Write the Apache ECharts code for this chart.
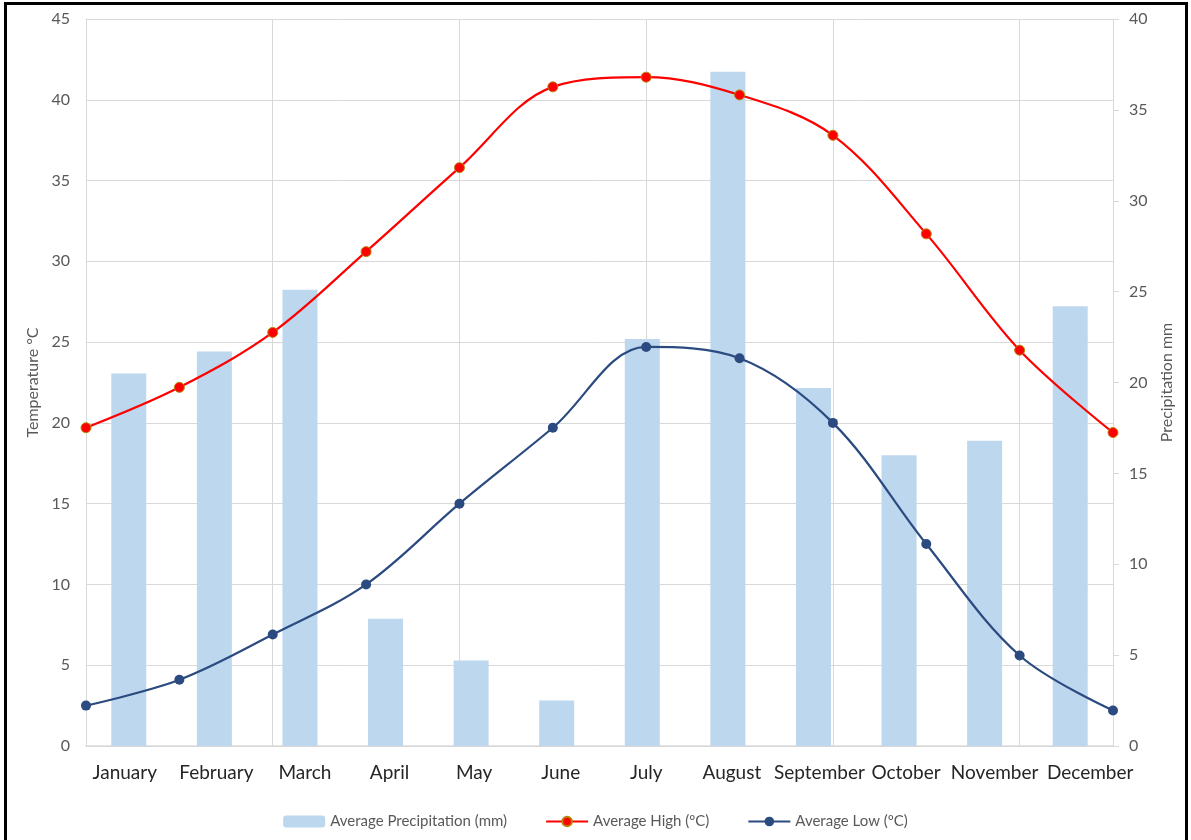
<!DOCTYPE html>
<html><head><meta charset="utf-8">
<script src="https://cdn.jsdelivr.net/npm/echarts@6/dist/echarts.min.js"></script>
<style>html,body{margin:0;padding:0;background:#fff}#c{width:1191px;height:840px}</style>
</head><body><div id="c"></div>
<script>
const months = ['January','February','March','April','May','June','July','August','September','October','November','December'];
const precipitation = [20.5, 21.7, 25.1, 7.0, 4.7, 2.5, 22.4, 37.1, 19.7, 16.0, 16.8, 24.2];
const avgHigh = [19.7, 22.2, 25.6, 30.6, 35.8, 40.8, 41.4, 40.3, 37.8, 31.7, 24.5, 19.4];
const avgLow = [2.5, 4.1, 6.9, 10.0, 15.0, 19.7, 24.7, 24.0, 20.0, 12.5, 5.6, 2.2];

const FONT = 'Lato';
// horizontal nudges of month labels (px), as in the reference layout
const labelShift = [-4, 2, 5, 4, 3, 4, 4, 4, 6, 7, 10, 20];
const rich = {};
labelShift.forEach((s, i) => {
  rich['m' + i] = {color:'#262626', fontSize:19, fontFamily:FONT,
    padding: s >= 0 ? [0, 0, 0, 2 * s] : [0, -2 * s, 0, 0]};
});

const chart = echarts.init(document.getElementById('c'), null, {renderer:'canvas'});
chart.setOption({
  backgroundColor:'#fff',
  animation:false,
  textStyle:{fontFamily:FONT},
  graphic:[{type:'rect',shape:{x:5.5,y:3.5,width:1181,height:860},style:{fill:null,stroke:'#000',lineWidth:3},z:-10,silent:true}],
  grid:{left:86,right:78,top:19,bottom:94},
  legend:{
    top:809, left:'center', itemGap:38, itemWidth:42, itemHeight:12,
    textStyle:{color:'#595959',fontSize:15,fontFamily:FONT},
    data:['Average Precipitation (mm)','Average High (ºC)','Average Low (ºC)']
  },
  xAxis:[
    {type:'category',data:months,boundaryGap:true,position:'bottom',
     axisLine:{show:true,lineStyle:{color:'#d9d9d9',width:1.5}},axisTick:{show:false},
     axisLabel:{color:'#262626',fontSize:19,margin:17,interval:0,fontFamily:FONT,
       formatter:(v, i) => '{m' + i + '|' + v + '}', rich:rich},
     splitLine:{show:false}},
    {type:'category',data:months,boundaryGap:false,position:'bottom',
     axisLine:{show:false},axisTick:{show:false},axisLabel:{show:false},
     splitLine:{show:true,interval:1,lineStyle:{color:'#d9d9d9',width:1}}}
  ],
  yAxis:[
    {type:'value',min:0,max:45,interval:5,position:'left',
     name:'Temperature °C',nameLocation:'middle',nameGap:40,
     nameTextStyle:{color:'#595959',fontSize:16,fontFamily:FONT},
     axisLine:{show:true,lineStyle:{color:'#d9d9d9'}},axisTick:{show:false},
     axisLabel:{color:'#595959',fontSize:16,margin:16},
     splitLine:{show:true,lineStyle:{color:'#d9d9d9',width:1}}},
    {type:'value',min:0,max:40,interval:5,position:'right',
     name:'Precipitation mm',nameLocation:'middle',nameGap:46,nameRotate:90,
     nameTextStyle:{color:'#595959',fontSize:16,fontFamily:FONT},
     axisLine:{show:true,lineStyle:{color:'#d9d9d9'}},
     axisTick:{show:true,length:6,lineStyle:{color:'#d9d9d9'}},
     axisLabel:{color:'#595959',fontSize:16,margin:16},
     splitLine:{show:false}}
  ],
  series:[
    {name:'Average Precipitation (mm)',type:'bar',xAxisIndex:0,yAxisIndex:1,data:precipitation,
     barWidth:35,itemStyle:{color:'#bdd7ee'},z:1},
    {name:'Average High (ºC)',type:'line',xAxisIndex:1,yAxisIndex:0,data:avgHigh,smooth:0.35,
     symbol:'circle',symbolSize:10,
     lineStyle:{color:'#ff0000',width:2.2},
     itemStyle:{color:'#ff0000',borderColor:'#b8860b',borderWidth:1},z:3},
    {name:'Average Low (ºC)',type:'line',xAxisIndex:1,yAxisIndex:0,data:avgLow,smooth:0.35,
     symbol:'circle',symbolSize:10,
     lineStyle:{color:'#2b4a80',width:2.2},
     itemStyle:{color:'#2b4a80'},z:3}
  ]
});
</script></body></html>
